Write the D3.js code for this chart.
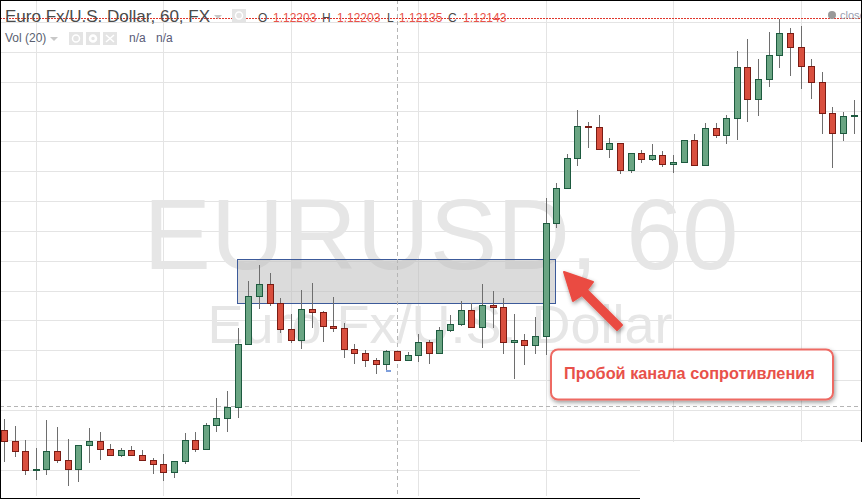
<!DOCTYPE html>
<html>
<head>
<meta charset="utf-8">
<script src="https://cdn.jsdelivr.net/npm/d3@7"></script>
<style>
  html, body { margin: 0; padding: 0; background: #fff; overflow: hidden; }
  svg { display: block; }
</style>
</head>
<body>
<div id="chart"></div>
<script>
// <-- ************ DATA (hourly candles) ************ -->
const OPENS = [1.11319,1.11297,1.11277,1.11239,1.11241,1.11277,1.11259,1.11241,1.11289,1.11297,1.11281,1.11269,1.11279,1.11269,1.11259,1.11251,1.11235,1.11257,1.11299,1.11281,1.11329,1.11343,1.11365,1.11491,1.11587,1.11611,1.11573,1.11521,1.11499,1.11561,1.11555,1.11527,1.11523,1.11481,1.11473,1.11459,1.11451,1.11477,1.11459,1.11469,1.11495,1.11473,1.11519,1.11531,1.11559,1.11525,1.11569,1.11565,1.11495,1.11499,1.11489,1.11507,1.11733,1.11803,1.11863,1.11927,1.11925,1.11881,1.11893,1.11839,1.11873,1.11861,1.11869,1.11851,1.11855,1.11899,1.11849,1.11923,1.11909,1.11943,1.12045,1.11981,1.12021,1.12069,1.12113,1.12085,1.12047,1.12015,1.11953,1.11913,1.11947];
const HIGHS = [1.11342,1.11328,1.11300,1.11284,1.11340,1.11326,1.11302,1.11290,1.11324,1.11316,1.11292,1.11284,1.11288,1.11280,1.11264,1.11272,1.11258,1.11314,1.11316,1.11334,1.11384,1.11398,1.11524,1.11618,1.11650,1.11634,1.11584,1.11552,1.11600,1.11614,1.11558,1.11586,1.11534,1.11492,1.11480,1.11464,1.11480,1.11478,1.11476,1.11512,1.11500,1.11526,1.11550,1.11578,1.11574,1.11612,1.11598,1.11584,1.11552,1.11512,1.11546,1.11784,1.11814,1.11872,1.11960,1.11936,1.11950,1.11904,1.11894,1.11874,1.11880,1.11892,1.11878,1.11870,1.11900,1.11912,1.11934,1.11934,1.11950,1.12078,1.12102,1.12062,1.12116,1.12142,1.12124,1.12128,1.12062,1.12036,1.11966,1.11956,1.11980];
const LOWS = [1.11256,1.11266,1.11230,1.11220,1.11230,1.11254,1.11208,1.11216,1.11254,1.11260,1.11268,1.11266,1.11268,1.11258,1.11232,1.11218,1.11224,1.11252,1.11276,1.11280,1.11316,1.11316,1.11344,1.11490,1.11562,1.11568,1.11514,1.11494,1.11482,1.11524,1.11496,1.11516,1.11464,1.11452,1.11446,1.11432,1.11436,1.11458,1.11458,1.11456,1.11452,1.11472,1.11516,1.11528,1.11524,1.11484,1.11524,1.11472,1.11422,1.11450,1.11472,1.11470,1.11724,1.11802,1.11848,1.11884,1.11880,1.11864,1.11832,1.11834,1.11854,1.11858,1.11846,1.11834,1.11854,1.11848,1.11848,1.11904,1.11892,1.11900,1.11936,1.11948,1.12006,1.12044,1.12028,1.12002,1.11982,1.11912,1.11844,1.11898,1.11912];
const CLOSES = [1.11297,1.11277,1.11239,1.11241,1.11277,1.11259,1.11241,1.11289,1.11297,1.11281,1.11269,1.11279,1.11269,1.11259,1.11251,1.11235,1.11257,1.11299,1.11281,1.11329,1.11343,1.11365,1.11491,1.11587,1.11611,1.11573,1.11521,1.11499,1.11561,1.11555,1.11527,1.11523,1.11481,1.11473,1.11459,1.11451,1.11477,1.11459,1.11469,1.11495,1.11473,1.11519,1.11531,1.11559,1.11525,1.11569,1.11565,1.11495,1.11499,1.11489,1.11507,1.11733,1.11803,1.11863,1.11927,1.11925,1.11881,1.11893,1.11839,1.11873,1.11861,1.11869,1.11851,1.11855,1.11899,1.11849,1.11923,1.11909,1.11943,1.12045,1.11981,1.12021,1.12069,1.12113,1.12085,1.12047,1.12015,1.11953,1.11913,1.11947,1.11949];

// gridlines, candle index for the vertical ones
const PRICE_TICKS = [1.12136,1.12076,1.12016,1.11958,1.11898,1.11838,1.11778,1.11718,1.11658,1.11598,1.11540,1.11480,1.11420,1.11360,1.11300,1.11240];
const TIME_TICKS = [3,15,27,39,51,63,75];

// labels
const TITLE = "Euro Fx/U.S. Dollar, 60, FX";
const OHLC_LABELS = [["O","1.12203"],["H","1.12203"],["L","1.12135"],["C","1.12143"]];
const WATERMARK = "EURUSD, 60";
const WATERMARK_2 = "Euro Fx/U.S. Dollar";
const CALLOUT = "Пробой канала сопротивления";

// levels picked out on the chart
const LAST_PRICE = 1.12143;
const CROSS_PRICE = 1.11367;
const CROSS_INDEX = 37;
const ZONE = {first: 1.11661, second: 1.11573, from: 22.0};

// <-- ************ GLOBAL CONSTANTS ************ -->
const FRAME_WIDTH = 862;
const FRAME_HEIGHT = 499;
const FONT = "Liberation Sans, Arial, sans-serif";

const X_SCALE = d3.scaleLinear().domain([0, 80]).range([4, 853.6]);
const Y_SCALE = d3.scaleLinear().domain([1.1218, 1.1118]).range([0, 500]);

// snap to the pixel grid so 1px lines stay sharp
const xPx = (i) => Math.round(X_SCALE(i)) + 0.5;
const yPx = (p) => Math.floor(Y_SCALE(p) + 0.01) + 0.5;

const FRAME = d3.select("#chart")
  .append("svg")
  .attr("width", FRAME_WIDTH)
  .attr("height", FRAME_HEIGHT)
  .attr("viewBox", [0, 0, FRAME_WIDTH, FRAME_HEIGHT]);

const defs = FRAME.append("defs");
const shadow = defs.append("filter").attr("id", "shadow")
  .attr("x", "-10%").attr("y", "-20%").attr("width", "120%").attr("height", "150%");
shadow.append("feDropShadow")
  .attr("dx", 1).attr("dy", 2).attr("stdDeviation", 2)
  .attr("flood-color", "#000").attr("flood-opacity", 0.4);

// <-- ************ GRID ************ -->
FRAME.append("g").selectAll("line")
  .data(PRICE_TICKS).enter().append("line")
  .attr("x1", 0).attr("x2", FRAME_WIDTH)
  .attr("y1", yPx).attr("y2", yPx)
  .attr("stroke", "#e4e4e4");

FRAME.append("g").selectAll("line")
  .data(TIME_TICKS).enter().append("line")
  .attr("x1", xPx).attr("x2", xPx)
  .attr("y1", 0).attr("y2", 496)
  .attr("stroke", "#e4e4e4");

// <-- ************ WATERMARKS ************ -->
FRAME.append("text")
  .attr("x", 441).attr("y", 269)
  .attr("text-anchor", "middle")
  .attr("font-family", FONT).attr("font-size", 101)
  .attr("fill", "#e6e6e6")
  .text(WATERMARK);

FRAME.append("text")
  .attr("x", 440).attr("y", 343)
  .attr("text-anchor", "middle")
  .attr("font-family", FONT).attr("font-size", 54)
  .attr("fill", "#e6e6e6")
  .text(WATERMARK_2);

// <-- ************ RESISTANCE ZONE ************ -->
FRAME.append("rect")
  .attr("x", Math.round(X_SCALE(ZONE.from)) - 0.5)
  .attr("y", Y_SCALE(ZONE.first))
  .attr("width", 318)
  .attr("height", Y_SCALE(ZONE.second) - Y_SCALE(ZONE.first))
  .attr("fill", "#bdbdbd")
  .attr("fill-opacity", 0.55)
  .attr("stroke", "#3c5a9a");

// <-- ************ CROSSHAIR ************ -->
FRAME.append("line")
  .attr("x1", 0).attr("x2", FRAME_WIDTH)
  .attr("y1", yPx(CROSS_PRICE)).attr("y2", yPx(CROSS_PRICE))
  .attr("stroke", "#b5b5b5")
  .attr("stroke-dasharray", "4,3");

FRAME.append("line")
  .attr("x1", xPx(CROSS_INDEX)).attr("x2", xPx(CROSS_INDEX))
  .attr("y1", 0).attr("y2", 496)
  .attr("stroke", "#b5b5b5")
  .attr("stroke-dasharray", "4,3");

// <-- ************ CANDLES ************ -->
const candles = FRAME.append("g").selectAll("g")
  .data(OPENS).enter().append("g");

candles.append("line")
  .attr("x1", (d, i) => { return xPx(i); })
  .attr("x2", (d, i) => { return xPx(i); })
  .attr("y1", (d, i) => { return Y_SCALE(HIGHS[i]); })
  .attr("y2", (d, i) => { return Y_SCALE(LOWS[i]); })
  .attr("stroke", "#6e6e6e");

candles.append("rect")
  .attr("x", (d, i) => { return xPx(i) - 3; })
  .attr("width", 6)
  .attr("y", (d, i) => { return Y_SCALE(Math.max(OPENS[i], CLOSES[i])); })
  .attr("height", (d, i) => { return Math.abs(Y_SCALE(OPENS[i]) - Y_SCALE(CLOSES[i])); })
  .attr("fill", (d, i) => { return CLOSES[i] >= OPENS[i] ? "#6aa583" : "#d94f3e"; })
  .attr("stroke", (d, i) => { return CLOSES[i] >= OPENS[i] ? "#1d5a3f" : "#7a1c14"; });

// small blue tick left under the low near the crosshair
FRAME.append("rect").attr("x", 386).attr("y", 370).attr("width", 5).attr("height", 2).attr("fill", "#7f9fdc");

// <-- ************ LAST PRICE LINE ************ -->
FRAME.append("line")
  .attr("x1", 0).attr("x2", FRAME_WIDTH)
  .attr("y1", Y_SCALE(LAST_PRICE)).attr("y2", Y_SCALE(LAST_PRICE))
  .attr("stroke", "#e0362c")
  .attr("stroke-dasharray", "2,1");

// <-- ************ HEADER ************ -->
FRAME.append("text")
  .attr("x", 5).attr("y", 22)
  .attr("font-family", FONT).attr("font-size", 17)
  .attr("fill", "#4a4a4a")
  .text(TITLE);

FRAME.append("path").attr("d", "M214 15h8l-4 4z").attr("fill", "#c8c8c8");

// little icon buttons: eye, gear, cross
function iconBox(x, y, kind) {
  FRAME.append("rect").attr("x", x).attr("y", y).attr("width", 14).attr("height", 13).attr("fill", "#e4e4e4");
  if (kind === "eye") {
    FRAME.append("circle").attr("cx", x + 7).attr("cy", y + 6.5).attr("r", 3.5)
      .attr("fill", "none").attr("stroke", "#fff").attr("stroke-width", 1.5);
  } else if (kind === "gear") {
    FRAME.append("circle").attr("cx", x + 7).attr("cy", y + 6.5).attr("r", 3)
      .attr("fill", "none").attr("stroke", "#fff").attr("stroke-width", 2.5);
  } else {
    FRAME.append("path").attr("d", `M${x + 3} ${y + 3}l8 7m0 -7l-8 7`).attr("stroke", "#fff").attr("stroke-width", 1.5);
  }
}
iconBox(232, 9, "eye");

const OHLC_X = [258, 322, 387, 448];
const OHLC_VALUE_X = [273, 337, 399, 463];
OHLC_LABELS.forEach((d, i) => {
  FRAME.append("text").attr("x", OHLC_X[i]).attr("y", 22)
    .attr("font-family", FONT).attr("font-size", 12).attr("fill", "#4a4a4a").text(d[0]);
  FRAME.append("text").attr("x", OHLC_VALUE_X[i]).attr("y", 22)
    .attr("font-family", FONT).attr("font-size", 12).attr("fill", "#e8534a").text(d[1]);
});

FRAME.append("text")
  .attr("x", 5).attr("y", 42)
  .attr("font-family", FONT).attr("font-size", 12)
  .attr("fill", "#5a5f70")
  .text("Vol (20)");
FRAME.append("path").attr("d", "M50 37h8l-4 4z").attr("fill", "#c8c8c8");
iconBox(69, 32, "eye");
iconBox(86, 32, "gear");
iconBox(103, 32, "cross");
FRAME.append("text").attr("x", 129).attr("y", 42)
  .attr("font-family", FONT).attr("font-size", 12).attr("fill", "#5a5a78").text("n/a");
FRAME.append("text").attr("x", 156).attr("y", 42)
  .attr("font-family", FONT).attr("font-size", 12).attr("fill", "#5a5a78").text("n/a");

FRAME.append("circle").attr("cx", 832).attr("cy", 15).attr("r", 4).attr("fill", "#999");
FRAME.append("text").attr("x", 840).attr("y", 19)
  .attr("font-family", FONT).attr("font-size", 11).attr("fill", "#9aa0b0").text("close");

// <-- ************ ARROW + CALLOUT ************ -->
FRAME.append("path")
  .attr("d", "M564 272L593 282L587 290L622 325L617 330L582 295L573 301Z")
  .attr("fill", "#ea4b43")
  .attr("stroke", "#ea4b43")
  .attr("stroke-linejoin", "round")
  .attr("stroke-width", 2)
  .attr("filter", "url(#shadow)");

FRAME.append("rect")
  .attr("x", 551).attr("y", 349.5)
  .attr("width", 282).attr("height", 50)
  .attr("rx", 7)
  .attr("fill", "#fff")
  .attr("stroke", "#ee6a64")
  .attr("stroke-width", 2)
  .attr("filter", "url(#shadow)");

FRAME.append("text")
  .attr("x", 564).attr("y", 379)
  .attr("font-family", FONT).attr("font-size", 16.3).attr("font-weight", "bold")
  .attr("fill", "#e8514a")
  .text(CALLOUT);

// <-- ************ PASTED-OVER CORNER + BORDER ************ -->
FRAME.append("rect").attr("x", 640).attr("y", 442).attr("width", 222).attr("height", 57).attr("fill", "#fff");
FRAME.append("rect").attr("x", 0).attr("y", 0).attr("width", 1).attr("height", FRAME_HEIGHT).attr("fill", "#000");
FRAME.append("rect").attr("x", 0).attr("y", 0).attr("width", FRAME_WIDTH).attr("height", 1).attr("fill", "#000");
FRAME.append("rect").attr("x", 861).attr("y", 0).attr("width", 1).attr("height", 442).attr("fill", "#000");
FRAME.append("rect").attr("x", 0).attr("y", 498).attr("width", 640).attr("height", 1).attr("fill", "#000");
</script>
</body>
</html>
